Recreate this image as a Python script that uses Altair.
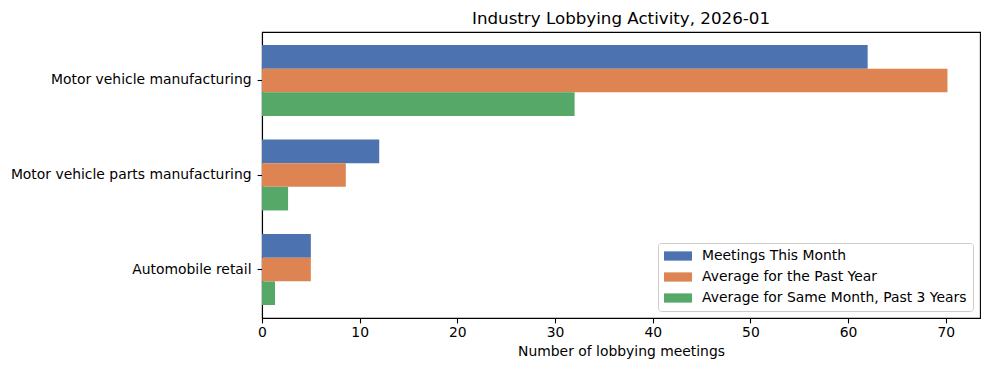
import altair as alt
import pandas as pd

categories = ["Motor vehicle manufacturing", "Motor vehicle parts manufacturing", "Automobile retail"]
series = ["Meetings This Month", "Average for the Past Year", "Average for Same Month, Past 3 Years"]
meetings_this_month = [62, 12, 5]
avg_past_year = [70.17, 8.58, 5.0]
avg_same_month_3y = [32.0, 2.67, 1.33]
colors = ["#4c72b0", "#dd8452", "#55a868"]

rows = []
for i, c in enumerate(categories):
    for s, vals in zip(series, [meetings_this_month, avg_past_year, avg_same_month_3y]):
        rows.append({"category": c, "series": s, "value": vals[i]})
df = pd.DataFrame(rows)

FONT = "DejaVu Sans"

chart = alt.Chart(df).mark_bar().encode(
    y=alt.Y("category:N", sort=categories, title=None,
            scale=alt.Scale(paddingInner=0.25, paddingOuter=0.1375),
            axis=alt.Axis(labelFontSize=13.9, labelColor="black", tickColor="black",
                          domainColor="black", tickSize=4.9, tickWidth=1.1, domainWidth=1.1,
                          labelPadding=6, labelFont=FONT, labelLimit=400)),
    yOffset=alt.YOffset("series:N", sort=series, scale=alt.Scale(paddingInner=0, paddingOuter=0)),
    x=alt.X("value:Q", title="Number of lobbying meetings",
            scale=alt.Scale(domain=[0, 73.5], nice=False, zero=True),
            axis=alt.Axis(values=list(range(0, 80, 10)), grid=False, labelFontSize=13.9,
                          labelColor="black", tickColor="black", domainColor="black",
                          tickSize=4.9, tickWidth=1.1, domainWidth=1.1, labelPadding=3,
                          labelFont=FONT, titleFont=FONT, titleFontSize=13.9,
                          titleFontWeight="normal", titleColor="black", titlePadding=5,
                          labelFlush=False)),
    color=alt.Color("series:N", sort=series,
                    scale=alt.Scale(domain=series, range=colors),
                    legend=alt.Legend(title=None, orient="bottom-right", offset=7,
                                      labelFont=FONT, labelFontSize=13.9, labelColor="black",
                                      labelLimit=400,
                                      symbolType="M-2,-0.66L2,-0.66L2,0.66L-2,0.66Z",
                                      symbolSize=196, symbolStrokeWidth=0,
                                      symbolOffset=7,
                                      fillColor="white", strokeColor="#cccccc",
                                      cornerRadius=3, padding=6, rowPadding=7,
                                      labelOffset=17)),
).properties(
    width=718, height=286,
    title=alt.TitleParams("Industry Lobbying Activity, 2026-01", font=FONT, fontSize=16.7,
                          fontWeight="normal", color="black", anchor="middle", offset=4),
    autosize=alt.AutoSizeParams(type="none"),
    padding={"left": 254, "top": 24, "right": 2, "bottom": 45},
).configure_view(stroke="black", strokeWidth=1.1)

chart.save("out.html", embed_options={"renderer": "svg", "actions": False})
